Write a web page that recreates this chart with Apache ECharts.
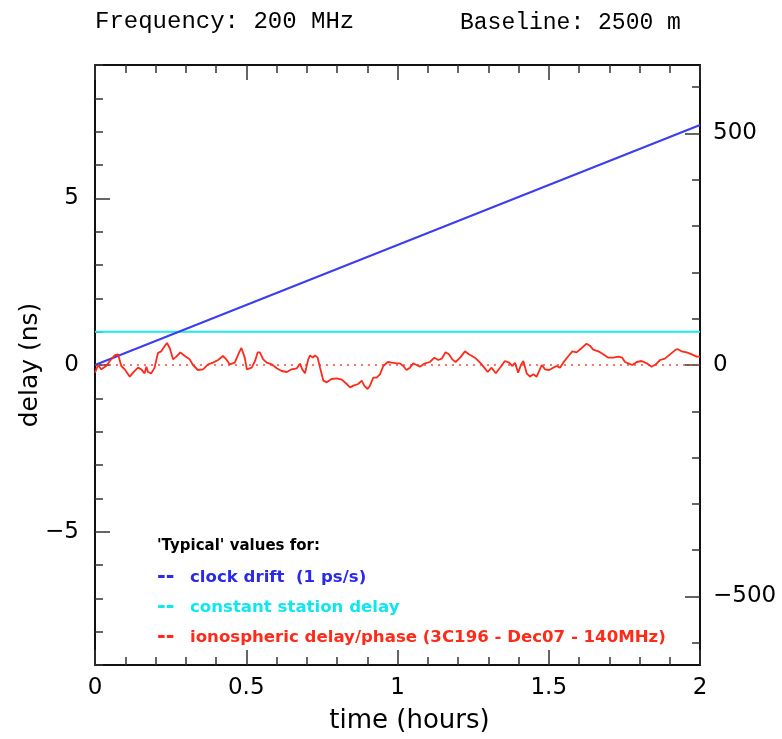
<!DOCTYPE html>
<html>
<head>
<meta charset="utf-8">
<script src="https://cdn.jsdelivr.net/npm/echarts@6/dist/echarts.min.js"></script>
<style>
html,body{margin:0;padding:0;background:#fff;}
#chart{width:782px;height:739px;}
</style>
</head>
<body>
<div id="chart"></div>
<script>
// ---- data ----
var titleLeft = 'Frequency: 200 MHz';
var titleRight = 'Baseline: 2500 m';
var legendHeader = "'Typical' values for:";
var legendLabels = ['clock drift  (1 ps/s)', 'constant station delay', 'ionospheric delay/phase (3C196 - Dec07 - 140MHz)'];
var xTickLabels = [0, 0.5, 1, 1.5, 2];
var leftTickLabels = [-5, 0, 5];
var rightTickLabels = [-500, 0, 500];
var rightMinorTicks = [-600, -500, -400, -300, -200, -100, 0, 100, 200, 300, 400, 500, 600];
var clockDrift = [[0, 0], [2, 7.2]];            // ns, 1 ps/s over 2 h
var stationDelay = [[0, 1], [2, 1]];            // ns
var zeroLine = [[0, 0], [2, 0]];
var ionoTime = [0,0.010,0.021,0.026,0.037,0.049,0.065,0.076,0.087,0.098,0.115,0.126,0.142,0.153,0.164,0.170,0.175,0.186,0.197,0.208,0.219,0.230,0.238,0.247,0.258,0.269,0.282,0.297,0.313,0.324,0.340,0.357,0.374,0.390,0.407,0.423,0.434,0.445,0.462,0.478,0.484,0.495,0.502,0.518,0.529,0.538,0.545,0.556,0.568,0.584,0.601,0.617,0.634,0.650,0.667,0.678,0.685,0.694,0.705,0.711,0.720,0.727,0.736,0.744,0.755,0.766,0.782,0.799,0.816,0.832,0.843,0.854,0.870,0.882,0.890,0.901,0.909,0.920,0.931,0.942,0.953,0.968,0.981,0.997,1.008,1.019,1.030,1.041,1.052,1.063,1.074,1.091,1.107,1.122,1.135,1.146,1.159,1.170,1.181,1.192,1.207,1.223,1.236,1.256,1.273,1.287,1.298,1.311,1.325,1.339,1.355,1.369,1.380,1.388,1.399,1.408,1.416,1.427,1.438,1.449,1.460,1.477,1.488,1.501,1.515,1.526,1.537,1.548,1.565,1.578,1.592,1.609,1.625,1.636,1.647,1.664,1.680,1.697,1.713,1.730,1.743,1.752,1.763,1.776,1.791,1.807,1.824,1.840,1.854,1.868,1.884,1.901,1.917,1.925,1.939,1.956,1.973,1.989,2.0];
var ionoDelay = [-0.23,0,-0.13,-0.18,-0.03,0.12,0.29,0.32,-0.03,-0.13,-0.35,-0.23,-0.08,-0.13,-0.25,-0.05,-0.21,-0.25,-0.08,0.36,0.41,0.56,0.66,0.51,0.17,0.25,0.38,0.27,0.17,0,-0.15,-0.13,0.02,0.07,0.15,0.27,0.17,0.02,0.07,0.41,0.51,0.22,-0.13,-0.08,0.12,0.38,0.38,0.17,0.07,0.02,-0.10,-0.18,-0.21,-0.13,-0.10,0.04,-0.13,-0.25,0.17,0.29,0.22,0.29,0.22,-0.08,-0.47,-0.52,-0.42,-0.40,-0.44,-0.57,-0.67,-0.62,-0.57,-0.47,-0.62,-0.72,-0.62,-0.38,-0.38,-0.28,-0.03,0.09,0.07,0.05,0.05,-0.03,-0.15,-0.08,0.05,0,-0.05,0.05,0.09,0.22,0.15,0.19,0.38,0.32,0.17,0.09,0.22,0.41,0.32,0.22,0.07,-0.08,-0.21,-0.08,-0.25,-0.08,0.12,0.07,-0.03,0.07,-0.23,0,0.12,-0.25,-0.35,-0.28,-0.35,0,-0.13,-0.15,-0.08,-0.03,-0.08,0.07,0.27,0.41,0.38,0.51,0.64,0.58,0.46,0.41,0.32,0.22,0.22,0.25,0.22,0.09,0.05,0,0.09,0.12,0.05,-0.05,0.02,0.15,0.19,0.32,0.44,0.48,0.41,0.38,0.32,0.25,0.25];

var iono = ionoTime.map(function (t, i) { return [t, ionoDelay[i]]; });
function fmtMinus(v) { return v < 0 ? '\u2212' + (-v) : String(v); }

var axisColor = '#111';
var tickColor = '#333';
var labelFont = {color: '#000', fontSize: 23, fontFamily: 'DejaVu Sans'};
var legendColors = ['#2a2ae8', '#10e6ee', '#ff2a1a'];

function legendText(i) {
  return {type: 'text', left: 157, top: 567 + i * 30,
    style: {text: '{d|--}{t|' + legendLabels[i] + '}', fill: legendColors[i],
      rich: {d: {fontFamily: 'DejaVu Sans', fontWeight: 'bold', fontSize: 21, width: 33, fill: legendColors[i]},
             t: {fontFamily: 'DejaVu Sans', fontWeight: 'bold', fontSize: 16.6, fill: legendColors[i]}}}};
}

var chart = echarts.init(document.getElementById('chart'));
chart.setOption({
  backgroundColor: '#fff',
  animation: false,
  title: [
    {text: titleLeft, left: 90, top: 5, textStyle: {fontFamily: 'Liberation Mono', fontWeight: 'normal', fontSize: 24, color: '#000'}},
    {text: titleRight, left: 455, top: 6, textStyle: {fontFamily: 'Liberation Mono', fontWeight: 'normal', fontSize: 23, color: '#000'}}
  ],
  grid: {left: 95, top: 65, width: 605, height: 607, containLabel: false},
  xAxis: [
    {type: 'value', position: 'bottom', min: 0, max: 2, interval: 0.5,
     axisLine: {show: true, onZero: false, lineStyle: {color: axisColor, width: 2}},
     axisTick: {show: true, inside: true, length: 15, lineStyle: {color: tickColor, width: 1.5}},
     minorTick: {show: true, splitNumber: 5, length: 8, lineStyle: {color: tickColor, width: 1.5}},
     axisLabel: Object.assign({margin: 12, formatter: function (v) { return xTickLabels.indexOf(v) >= 0 ? String(v) : ''; }}, labelFont),
     splitLine: {show: false},
     name: 'time (hours)', nameLocation: 'middle', nameGap: 43,
     nameTextStyle: {color: '#000', fontSize: 26, fontFamily: 'DejaVu Sans', padding: [0, 0, 0, 24]}},
    {type: 'value', position: 'top', min: 0, max: 2, interval: 0.5,
     axisLine: {show: true, onZero: false, lineStyle: {color: axisColor, width: 2}},
     axisTick: {show: true, inside: true, length: 15, lineStyle: {color: tickColor, width: 1.5}},
     minorTick: {show: true, splitNumber: 5, length: 8, lineStyle: {color: tickColor, width: 1.5}},
     axisLabel: {show: false}, splitLine: {show: false}}
  ],
  yAxis: [
    {type: 'value', position: 'left', min: -9, max: 9, interval: 1,
     axisLine: {show: true, onZero: false, lineStyle: {color: axisColor, width: 2}},
     axisTick: {show: true, inside: true, length: 8, lineStyle: {color: tickColor, width: 1.5}},
     axisLabel: {show: false}, splitLine: {show: false}},
    {type: 'value', position: 'left', min: -9, max: 9,
     axisLine: {show: false, onZero: false},
     axisTick: {show: true, inside: true, length: 15, customValues: leftTickLabels, lineStyle: {color: tickColor, width: 1.5}},
     axisLabel: Object.assign({margin: 16, customValues: leftTickLabels, formatter: fmtMinus}, labelFont),
     splitLine: {show: false},
     name: 'delay (ns)', nameLocation: 'middle', nameGap: 52, nameRotate: 90, nameMoveOverlap: false,
     nameTextStyle: {color: '#000', fontSize: 25, fontFamily: 'DejaVu Sans'}},
    {type: 'value', position: 'right', min: -648, max: 648,
     axisLine: {show: true, onZero: false, lineStyle: {color: axisColor, width: 2}},
     axisTick: {show: true, inside: true, length: 8, customValues: rightMinorTicks, lineStyle: {color: tickColor, width: 1.5}},
     axisLabel: {show: false}, splitLine: {show: false}},
    {type: 'value', position: 'right', min: -648, max: 648,
     axisLine: {show: false, onZero: false},
     axisTick: {show: true, inside: true, length: 15, customValues: rightTickLabels, lineStyle: {color: tickColor, width: 1.5}},
     axisLabel: Object.assign({margin: 13, customValues: rightTickLabels, formatter: fmtMinus}, labelFont),
     splitLine: {show: false}}
  ],
  series: [
    {type: 'line', data: zeroLine, xAxisIndex: 0, yAxisIndex: 0, symbol: 'none', silent: true,
     lineStyle: {color: '#ff4a3a', width: 1.5, type: [2, 5]}},
    {type: 'line', data: stationDelay, xAxisIndex: 0, yAxisIndex: 0, symbol: 'none',
     lineStyle: {color: '#1ee8ee', width: 2}},
    {type: 'line', data: clockDrift, xAxisIndex: 0, yAxisIndex: 0, symbol: 'none',
     lineStyle: {color: '#3c3cf0', width: 2}},
    {type: 'line', data: iono, xAxisIndex: 0, yAxisIndex: 0, symbol: 'none',
     lineStyle: {color: '#ff2a1a', width: 1.8}}
  ],
  graphic: [
    {type: 'text', left: 157, top: 539, style: {text: legendHeader, fill: '#000', font: 'bold 15px "DejaVu Sans"'}},
    legendText(0), legendText(1), legendText(2)
  ]
});
</script>
</body>
</html>
